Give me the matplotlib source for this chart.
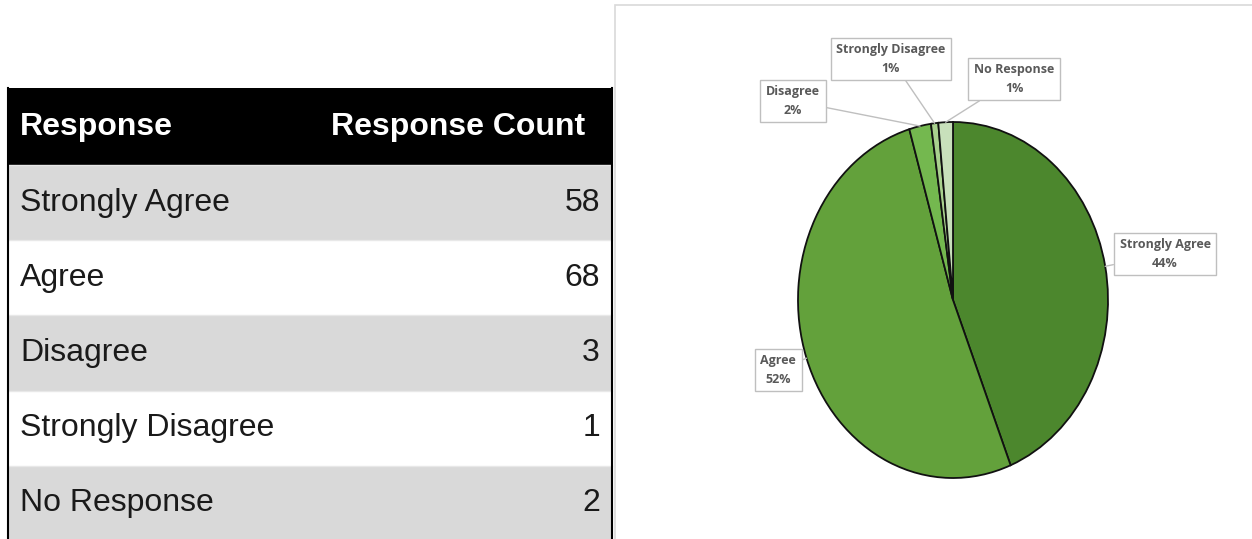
import numpy as np
import matplotlib.pyplot as plt
from matplotlib.patches import Rectangle

responses = ["Strongly Agree", "Agree", "Disagree", "Strongly Disagree", "No Response"]
counts = [58, 68, 3, 1, 2]
pct_labels = ["44%", "52%", "2%", "1%", "1%"]
header = ["Response", "Response Count"]

colors = ["#4c872d", "#63a13b", "#74b84f", "#a9d18e", "#c8e0bb"]
row_fill = ["#d9d9d9", "#ffffff"]
# label box centres in figure pixels (x right, y down)
label_pos = [(1165, 254), (778, 370), (793, 101), (891, 59), (1014, 79)]

W, H = 1252, 539
fig = plt.figure(figsize=(W / 100, H / 100), dpi=100)

# layout layer in pixel coords
lay = fig.add_axes([0, 0, 1, 1])
lay.set_xlim(0, W)
lay.set_ylim(H, 0)
lay.axis("off")

# chart area frame
lay.add_patch(Rectangle((615, 5), 700, 600, fc="white", ec="#d9d9d9", lw=1.2))

# table
tx0, tx1 = 8, 612
top, head_h, row_h = 88, 77, 75.2
lay.add_patch(Rectangle((tx0, top), tx1 - tx0, head_h, fc="black", ec="none"))
lay.text(20, top + head_h / 2, header[0], color="white", fontsize=23,
         fontweight="bold", family="Liberation Sans", va="center", ha="left")
lay.text(585, top + head_h / 2, header[1], color="white", fontsize=23,
         fontweight="bold", family="Liberation Sans", va="center", ha="right")
for i, (name, n) in enumerate(zip(responses, counts)):
    y0 = top + head_h + i * row_h
    lay.add_patch(Rectangle((tx0, y0), tx1 - tx0, row_h, fc=row_fill[i % 2],
                            ec="none"))
    lay.plot([tx0, tx1], [y0, y0], color="#e8e8e8", lw=1)
    lay.text(20, y0 + row_h / 2, name, color="#1a1a1a", fontsize=23,
             family="Liberation Sans", va="center", ha="left")
    lay.text(600, y0 + row_h / 2, str(n), color="#1a1a1a", fontsize=23,
             family="Liberation Sans", va="center", ha="right")
lay.plot([tx0, tx0], [top, H], color="black", lw=1.5)
lay.plot([tx1, tx1], [top, H], color="black", lw=1.5)

# pie (elliptical, as in the source)
ax = fig.add_axes([798 / W, 61 / H, 310 / W, 356 / H])
wedges, _ = ax.pie(counts, colors=colors, startangle=90, counterclock=False,
                   wedgeprops=dict(edgecolor="#111111", linewidth=1.3))
ax.set_aspect("auto")
ax.set_xlim(-1, 1)
ax.set_ylim(-1, 1)

for w, name, pct, (px, py) in zip(wedges, responses, pct_labels, label_pos):
    mid = np.deg2rad((w.theta1 + w.theta2) / 2)
    ax.annotate(f"{name}\n{pct}", xy=(np.cos(mid), np.sin(mid)),
                xycoords="data", xytext=(px, py), textcoords=lay.transData,
                ha="center", va="center", fontsize=9, fontweight="bold",
                family="Open Sans", color="#595959", linespacing=1.55,
                annotation_clip=False,
                bbox=dict(boxstyle="square,pad=0.45", fc="white", ec="#bfbfbf",
                          lw=1),
                arrowprops=dict(arrowstyle="-", color="#bfbfbf", lw=1,
                                shrinkA=0, shrinkB=0))

fig.savefig("out.png", dpi=100)
